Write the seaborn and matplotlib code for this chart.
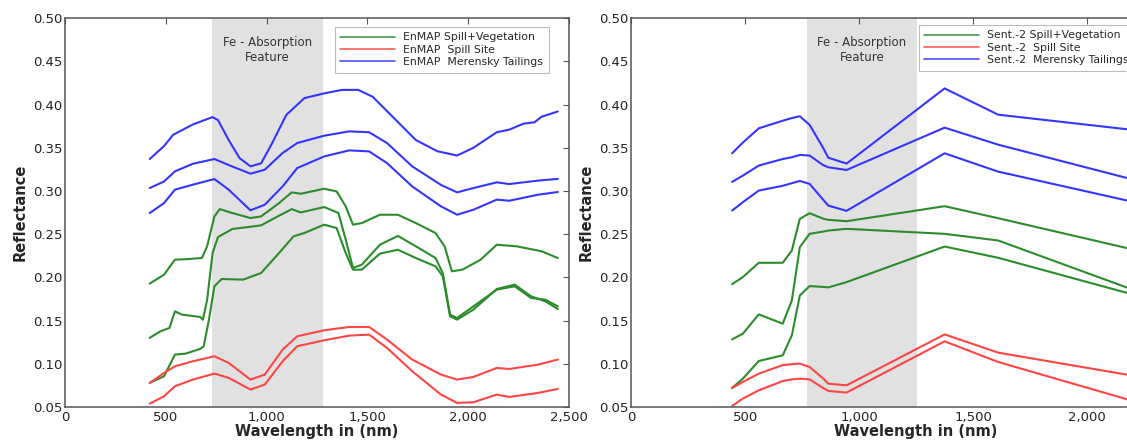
import numpy as np
import pandas as pd
import matplotlib
matplotlib.use('Agg')
import matplotlib.pyplot as plt
import matplotlib.ticker as mticker
import seaborn as sns

# ── EnMAP spectra ──
en_blue1_wl = [420, 491, 536, 634, 732, 759, 812, 866, 920, 973, 1027, 1098, 1188, 1286, 1375, 1455,
               1527, 1634, 1741, 1848, 1946, 2027, 2143, 2205, 2277, 2330, 2366, 2446]
en_blue1 = [0.337, 0.352, 0.365, 0.377, 0.3855, 0.382, 0.359, 0.338, 0.3285, 0.332, 0.355, 0.388, 0.4075,
            0.413, 0.417, 0.417, 0.409, 0.384, 0.359, 0.346, 0.341, 0.350, 0.368, 0.371, 0.378, 0.3795,
            0.386, 0.392]

br_wl = [420, 491, 545, 634, 741, 812, 920, 991, 1080, 1152, 1286, 1411, 1509, 1598, 1723, 1866, 1946,
         2027, 2143, 2205, 2348, 2446]
en_blue2 = [0.3034, 0.311, 0.3227, 0.3315, 0.337, 0.330, 0.320, 0.3246, 0.344, 0.3555, 0.364, 0.369,
            0.368, 0.3555, 0.3285, 0.307, 0.2984, 0.3034, 0.310, 0.308, 0.312, 0.314]
en_blue3 = [0.2745, 0.286, 0.3015, 0.3073, 0.3138, 0.3015, 0.2776, 0.2841, 0.3053, 0.3265, 0.340, 0.347,
            0.3458, 0.3323, 0.3053, 0.2822, 0.2725, 0.2783, 0.290, 0.2887, 0.2957, 0.2988]
en_red1 = [0.0779, 0.0894, 0.0971, 0.1029, 0.1087, 0.101, 0.0817, 0.0875, 0.1164, 0.1318, 0.1388, 0.1426,
           0.1426, 0.128, 0.1049, 0.0875, 0.0817, 0.0848, 0.0952, 0.094, 0.099, 0.1049]
en_red2 = [0.0539, 0.0624, 0.0740, 0.0817, 0.0887, 0.0837, 0.0702, 0.076, 0.1029, 0.1203, 0.1272, 0.1326,
           0.1338, 0.1184, 0.0914, 0.0644, 0.0547, 0.0555, 0.0644, 0.0616, 0.0663, 0.0709]

en_green1_wl = [420, 491, 545, 598, 679, 705, 741, 768, 830, 920, 973, 1062, 1125, 1170, 1286, 1348, 1393,
                1429, 1473, 1563, 1652, 1741, 1839, 1884, 1920, 1973, 2063, 2143, 2241, 2366, 2446]
en_green1 = [0.1928, 0.2032, 0.2205, 0.221, 0.2224, 0.236, 0.2706, 0.279, 0.2745, 0.2687, 0.2706, 0.286,
             0.2984, 0.2968, 0.3026, 0.2995, 0.2822, 0.261, 0.2629, 0.2725, 0.2725, 0.2629, 0.2513, 0.236,
             0.207, 0.209, 0.2205, 0.2378, 0.236, 0.2302, 0.2224]
en_green2_wl = [420, 473, 518, 545, 580, 670, 684, 705, 732, 759, 830, 973, 1062, 1125, 1170, 1286, 1357,
                1393, 1429, 1473, 1563, 1652, 1741, 1839, 1875, 1911, 1946, 2027, 2143, 2232, 2313, 2384, 2446]
en_green2 = [0.130, 0.1376, 0.1415, 0.1607, 0.1569, 0.1542, 0.151, 0.174, 0.2282, 0.2467, 0.256, 0.2602,
             0.2714, 0.279, 0.2752, 0.2814, 0.2745, 0.2437, 0.2109, 0.2147, 0.2378, 0.248, 0.236, 0.2224,
             0.205, 0.1569, 0.153, 0.1665, 0.1858, 0.1897, 0.1762, 0.1742, 0.1665]
en_green3_wl = [420, 491, 545, 598, 670, 688, 714, 741, 777, 884, 973, 1062, 1134, 1188, 1286, 1348, 1393,
                1429, 1473, 1563, 1652, 1741, 1839, 1875, 1911, 1946, 2027, 2143, 2232, 2313, 2384, 2446]
en_green3 = [0.0779, 0.0856, 0.1106, 0.1118, 0.1172, 0.1203, 0.151, 0.1897, 0.1981, 0.1974, 0.2051, 0.2282,
             0.2475, 0.2514, 0.261, 0.2571, 0.2282, 0.2089, 0.2089, 0.2275, 0.232, 0.2224, 0.2128, 0.2012,
             0.155, 0.1511, 0.1627, 0.1866, 0.1916, 0.1781, 0.1723, 0.1634]

# ── Sentinel-2 band values (right panel) ──
s2_wl = [443, 490, 560, 665, 705, 740, 783, 842, 865, 945, 1375, 1610, 2190]
s2_blue1 = [0.3436, 0.356, 0.3725, 0.3813, 0.3844, 0.3865, 0.3765, 0.350, 0.3385, 0.3317, 0.4187, 0.3883, 0.371]
s2_blue2 = [0.3105, 0.3178, 0.3294, 0.337, 0.339, 0.3417, 0.341, 0.330, 0.3274, 0.3243, 0.3733, 0.3536, 0.314]
s2_blue3 = [0.2773, 0.287, 0.3005, 0.306, 0.309, 0.3116, 0.3082, 0.290, 0.2831, 0.277, 0.3436, 0.3224, 0.2881]
s2_green1 = [0.1922, 0.2003, 0.2169, 0.2169, 0.2311, 0.2677, 0.2743, 0.268, 0.2666, 0.265, 0.2824, 0.2685, 0.233]
s2_green2 = [0.1283, 0.1348, 0.1572, 0.1464, 0.1733, 0.235, 0.2504, 0.253, 0.2542, 0.2562, 0.2504, 0.2427, 0.1868]
s2_green3 = [0.072, 0.0828, 0.1032, 0.1098, 0.1329, 0.1791, 0.1899, 0.189, 0.1884, 0.1945, 0.2357, 0.2227, 0.181]
s2_red1 = [0.072, 0.079, 0.0886, 0.0985, 0.0995, 0.1002, 0.0963, 0.083, 0.077, 0.0751, 0.134, 0.1129, 0.0867]
s2_red2 = [0.0512, 0.0597, 0.0693, 0.080, 0.082, 0.0828, 0.082, 0.072, 0.0686, 0.0667, 0.126, 0.1021, 0.0578]

GROUPS = ['Spill+Vegetation', 'Spill Site', 'Merensky Tailings']
COLORS = {'Spill+Vegetation': '#2b8c2b', 'Spill Site': '#ff4545', 'Merensky Tailings': '#3535ff'}
EN_LABELS = ['EnMAP Spill+Vegetation', 'EnMAP  Spill Site', 'EnMAP  Merensky Tailings']
S2_LABELS = ['Sent.-2 Spill+Vegetation', 'Sent.-2  Spill Site', 'Sent.-2  Merensky Tailings']
EN_BAND = (731, 1280)
S2_BAND = (770, 1255)


def long_frame(curves):
    rows = []
    for i, (group, wl, refl) in enumerate(curves):
        rows.append(pd.DataFrame({'wavelength': wl, 'reflectance': refl, 'group': group, 'sample': i}))
    return pd.concat(rows, ignore_index=True)


enmap = long_frame([
    ('Spill+Vegetation', en_green1_wl, en_green1),
    ('Spill+Vegetation', en_green2_wl, en_green2),
    ('Spill+Vegetation', en_green3_wl, en_green3),
    ('Spill Site', br_wl, en_red1),
    ('Spill Site', br_wl, en_red2),
    ('Merensky Tailings', en_blue1_wl, en_blue1),
    ('Merensky Tailings', br_wl, en_blue2),
    ('Merensky Tailings', br_wl, en_blue3),
])
sent2 = long_frame([
    ('Spill+Vegetation', s2_wl, s2_green1),
    ('Spill+Vegetation', s2_wl, s2_green2),
    ('Spill+Vegetation', s2_wl, s2_green3),
    ('Spill Site', s2_wl, s2_red1),
    ('Spill Site', s2_wl, s2_red2),
    ('Merensky Tailings', s2_wl, s2_blue1),
    ('Merensky Tailings', s2_wl, s2_blue2),
    ('Merensky Tailings', s2_wl, s2_blue3),
])

sns.set_style('white')
plt.rcParams['font.family'] = ['DejaVu Sans']
plt.rcParams.update({
    'xtick.direction': 'in', 'ytick.direction': 'in',
    'xtick.top': True, 'ytick.right': True,
    'xtick.major.size': 4, 'ytick.major.size': 4,
    'axes.edgecolor': '#555555', 'axes.linewidth': 1.1,
    'xtick.color': '#555555', 'ytick.color': '#555555',
    'xtick.labelcolor': '#222222', 'ytick.labelcolor': '#222222',
    'xtick.labelsize': 9.5, 'ytick.labelsize': 9.5,
})

fig = plt.figure(figsize=(11.27, 4.42), dpi=100)
ax1 = fig.add_axes([0.0578, 0.0792, 0.4468, 0.8797])
ax2 = fig.add_axes([0.5600, 0.0792, 0.5057, 0.8797])

for ax, df, band, labels, leg_xy in [
        (ax1, enmap, EN_BAND, EN_LABELS, (335 / 1127, 1 - 27 / 442)),
        (ax2, sent2, S2_BAND, S2_LABELS, (919 / 1127, 1 - 25 / 442))]:
    ax.axvspan(*band, color='#e1e1e1', lw=0, zorder=0)
    ax.text(sum(band) / 2, 0.4633, 'Fe - Absorption\nFeature', ha='center', va='center',
            fontsize=8.5, color='#333333', linespacing=1.15)
    sns.lineplot(data=df, x='wavelength', y='reflectance', hue='group', units='sample',
                 estimator=None, palette=COLORS, hue_order=GROUPS, lw=1.5, ax=ax,
                 sort=False, legend=False)
    ax.set_xlim(0, 2500)
    ax.set_ylim(0.05, 0.50)
    ax.xaxis.set_major_locator(mticker.MultipleLocator(500))
    ax.yaxis.set_major_locator(mticker.MultipleLocator(0.05))
    ax.xaxis.set_major_formatter(mticker.FuncFormatter(lambda v, p: f'{v:,.0f}'))
    ax.yaxis.set_major_formatter(mticker.FormatStrFormatter('%.2f'))
    ax.tick_params(axis='x', pad=3)
    ax.tick_params(axis='y', pad=2)
    ax.set_xlabel('Wavelength in (nm)', fontsize=10.5, fontweight='bold', labelpad=0)
    ax.set_ylabel('Reflectance', fontsize=10.5, fontweight='bold', labelpad=4)
    handles = [plt.Line2D([], [], color=COLORS[g], lw=1.3, alpha=0.8) for g in GROUPS]
    leg = ax.legend(handles, labels, loc='upper left', bbox_to_anchor=leg_xy,
                    bbox_transform=fig.transFigure, borderaxespad=0, fontsize=7.8,
                    handlelength=5.0, labelspacing=0.22, fancybox=False, framealpha=1,
                    edgecolor='#bbbbbb', borderpad=0.5, handletextpad=0.8)
    leg.get_frame().set_linewidth(0.8)

fig.savefig('out.png', dpi=100)
